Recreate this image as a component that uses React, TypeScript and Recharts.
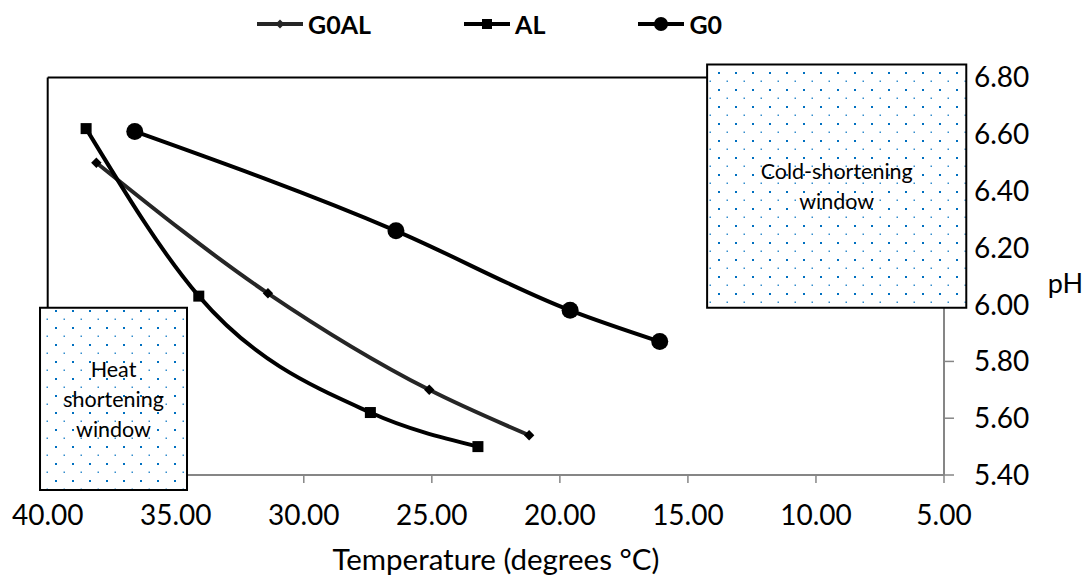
import React from 'react';
import { LineChart, Line, XAxis, YAxis, Legend, ReferenceArea, ReferenceLine } from 'recharts';

// temperature (°C) and pH
const g0alTemp = [38.1, 31.4, 25.1, 21.2];
const g0alPh = [6.5, 6.04, 5.7, 5.54];
const alTemp = [38.5, 34.1, 27.4, 23.2];
const alPh = [6.62, 6.03, 5.62, 5.5];
const g0Temp = [36.6, 26.4, 19.6, 16.1];
const g0Ph = [6.61, 6.26, 5.98, 5.87];

const seriesOrder = ['G0AL', 'AL', 'G0'];
const tempTicks = [40, 35, 30, 25, 20, 15, 10, 5];
const phTicks = [5.4, 5.6, 5.8, 6.0, 6.2, 6.4, 6.6, 6.8];

const zip = (t: number[], p: number[]) => t.map((temp, i) => ({ temp, ph: p[i] }));

const g0alData = zip(g0alTemp, g0alPh);
const alData = zip(alTemp, alPh);
const g0Data = zip(g0Temp, g0Ph);

const FONT = 'Lato, "Open Sans", sans-serif';
const AXIS_GREY = '#868686';
const DOT_BLUE = '#0070C0';

const Marker = ({ shape, cx, cy, color, small }: any) => {
  if (shape === 'diamond') {
    const s = small ? 4.5 : 5.2;
    return <polygon points={`${cx},${cy - s} ${cx + s},${cy} ${cx},${cy + s} ${cx - s},${cy}`} fill={color} />;
  }
  if (shape === 'square') {
    const s = small ? 5 : 5.5;
    return <rect x={cx - s} y={cy - s} width={s * 2} height={s * 2} fill={color} />;
  }
  return <circle cx={cx} cy={cy} r={small ? 7 : 8.5} fill={color} />;
};

const dotOf = (shape: string, color: string) => (props: any) => (
  <Marker key={`${shape}-${props.index}`} shape={shape} cx={props.cx} cy={props.cy} color={color} />
);

const LegendContent = (props: any) => {
  const payload = [...(props.payload || [])].sort(
    (a: any, b: any) => seriesOrder.indexOf(a.value) - seriesOrder.indexOf(b.value)
  );
  return (
    <div style={{ height: 48, display: 'flex', alignItems: 'center', paddingLeft: 257, gap: 93, fontFamily: FONT }}>
      {payload.map((entry: any) => (
        <div key={entry.value} style={{ display: 'flex', alignItems: 'center', gap: 5 }}>
          <svg width={46} height={20}>
            <line x1={0} y1={10} x2={46} y2={10} stroke={entry.color} strokeWidth={4} />
            <Marker shape={entry.type} cx={23} cy={10} color={entry.color} small />
          </svg>
          <span style={{ fontWeight: 700, fontSize: 25, color: '#000', lineHeight: '28px' }}>{entry.value}</span>
        </div>
      ))}
    </div>
  );
};

const boxLabel = (lines: string[], lineGap: number) => (props: any) => {
  const { x, y, width, height } = props.viewBox;
  const cx = x + width / 2;
  const cy = y + height / 2;
  const start = cy - ((lines.length - 1) * lineGap) / 2;
  return (
    <g>
      {lines.map((l, i) => (
        <text key={l} x={cx} y={start + i * lineGap} textAnchor="middle" dominantBaseline="central"
          fontFamily={FONT} fontSize={21.5} fill="#000">
          {l}
        </text>
      ))}
    </g>
  );
};

export default function App() {
  return (
    <div style={{ position: 'absolute', left: 0, top: 0 }}>
      <LineChart width={1088} height={579} margin={{ top: 29.5, right: 0, bottom: 0, left: 47.7 }}>
        <defs>
          <pattern id="dots" width={17} height={17} patternUnits="userSpaceOnUse">
            <rect width={17} height={17} fill="#fff" />
            <rect x={4} y={4} width={2} height={2} fill={DOT_BLUE} />
            <rect x={12.5} y={12.5} width={1.5} height={1.5} fill={DOT_BLUE} opacity={0.8} />
          </pattern>
        </defs>
        <XAxis
          dataKey="temp"
          type="number"
          domain={[5, 40]}
          ticks={tempTicks}
          reversed
          allowDataOverflow
          height={104}
          tickFormatter={(v: number) => v.toFixed(2)}
          tick={{ fontFamily: FONT, fontSize: 28, fill: '#000' }}
          axisLine={{ stroke: AXIS_GREY, strokeWidth: 2 }}
          tickLine={{ stroke: AXIS_GREY, strokeWidth: 1.5 }}
          tickSize={8}
          tickMargin={22}
          label={(p: any) => (
            <text x={p.viewBox.x + p.viewBox.width / 2} y={p.viewBox.y + p.viewBox.height - 9} textAnchor="middle"
              fontFamily={FONT} fontSize={29.5} fill="#000">
              Temperature (degrees °C)
            </text>
          )}
        />
        <YAxis
          orientation="right"
          type="number"
          domain={[5.4, 6.8]}
          ticks={phTicks}
          allowDataOverflow
          width={144}
          tickFormatter={(v: number) => v.toFixed(2)}
          tick={{ fontFamily: FONT, fontSize: 28, fill: '#000', textAnchor: 'start' }}
          axisLine={{ stroke: AXIS_GREY, strokeWidth: 2 }}
          tickLine={{ stroke: AXIS_GREY, strokeWidth: 1.5 }}
          tickSize={10}
          tickMargin={20}
          label={(p: any) => (
            <text x={p.viewBox.x + p.viewBox.width - 5} y={p.viewBox.y + p.viewBox.height / 2 + 6} textAnchor="end"
              dominantBaseline="central" fontFamily={FONT} fontSize={27} fill="#000">
              pH
            </text>
          )}
        />
        <ReferenceLine y={6.8} stroke="#000" strokeWidth={2} />
        <ReferenceLine x={40} stroke="#000" strokeWidth={2} />
        <Legend verticalAlign="top" content={<LegendContent />} wrapperStyle={{ top: 0, left: 0, width: 1088 }} />
        <Line data={g0alData} dataKey="ph" name="G0AL" type="monotone" stroke="#262626" strokeWidth={4}
          dot={dotOf('diamond', '#000')} legendType="diamond" isAnimationActive={false} activeDot={false} />
        <Line data={alData} dataKey="ph" name="AL" type="monotone" stroke="#000" strokeWidth={4}
          dot={dotOf('square', '#000')} legendType="square" isAnimationActive={false} activeDot={false} />
        <Line data={g0Data} dataKey="ph" name="G0" type="monotone" stroke="#000" strokeWidth={4}
          dot={dotOf('circle', '#000')} legendType="circle" isAnimationActive={false} activeDot={false} />
        <ReferenceArea x1={40.3} x2={34.56} y1={5.347} y2={5.989} ifOverflow="visible" zIndex={700}
          fill="url(#dots)" fillOpacity={1} stroke="#000" strokeWidth={2}
          label={boxLabel(['Heat', 'shortening', 'window'], 30)} />
        <ReferenceArea x1={14.25} x2={4.13} y1={5.989} y2={6.846} ifOverflow="visible" zIndex={700}
          fill="url(#dots)" fillOpacity={1} stroke="#000" strokeWidth={2}
          label={boxLabel(['Cold-shortening', 'window'], 30)} />
      </LineChart>
    </div>
  );
}
